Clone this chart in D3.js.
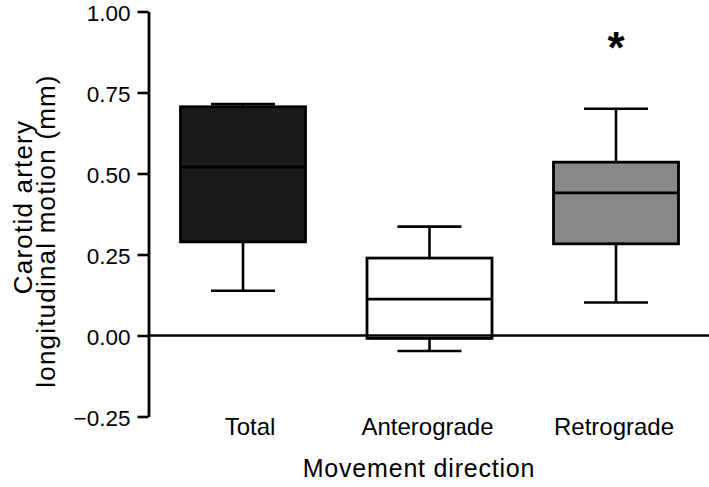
<!DOCTYPE html>
<html>
<head>
<meta charset="utf-8">
<script src="https://cdnjs.cloudflare.com/ajax/libs/d3/7.8.5/d3.min.js"></script>
<style>
  body { margin: 0; background: #fff; }
  svg { display: block; font-family: "Liberation Sans", Arial, Helvetica, sans-serif; }
</style>
</head>
<body>
<div id="chart"></div>
<script>
// box plot of carotid artery longitudinal motion per movement direction

const categories = ["Total", "Anterograde", "Retrograde"];
const whiskerLow = [0.138, -0.048, 0.102];
const q1 = [0.289, -0.009, 0.283];
const median = [0.52, 0.112, 0.44];
const q3 = [0.706, 0.239, 0.535];
const whiskerHigh = [0.714, 0.336, 0.70];
const significant = [false, false, true];
const yTicks = [-0.25, 0, 0.25, 0.5, 0.75, 1.0];

const fills = ["#1a1a1a", "#ffffff", "#888888"];

var data = categories.map(function (c, i) {
    return {
        name: c,
        lo: whiskerLow[i],
        q1: q1[i],
        med: median[i],
        q3: q3[i],
        hi: whiskerHigh[i],
        star: significant[i],
        fill: fills[i]
    }
})

var width = 709
var height = 487

const svg = d3.select("#chart")
    .append("svg")
    .attr("width", width)
    .attr("height", height)

const xScale = d3.scalePoint()
    .domain(categories)
    .range([243, 616])

const yScale = d3.scaleLinear()
    .domain([-0.25, 1.0])
    .range([416.5, 11.5])

const boxW = 125
const capW = 64
const axisX = 148.5

// boxes
var g = svg.append("g")
    .selectAll("g")
    .data(data)
    .enter()
    .append("g")

// whiskers
g.append("line")
    .attr("x1", d => xScale(d.name))
    .attr("x2", d => xScale(d.name))
    .attr("y1", d => yScale(d.lo))
    .attr("y2", d => yScale(d.q1))
    .attr("stroke", "#000")
    .attr("stroke-width", 2.6)
g.append("line")
    .attr("x1", d => xScale(d.name))
    .attr("x2", d => xScale(d.name))
    .attr("y1", d => yScale(d.q3))
    .attr("y2", d => yScale(d.hi))
    .attr("stroke", "#000")
    .attr("stroke-width", 2.6)
// caps
g.append("line")
    .attr("x1", d => xScale(d.name) - capW / 2)
    .attr("x2", d => xScale(d.name) + capW / 2)
    .attr("y1", d => yScale(d.lo))
    .attr("y2", d => yScale(d.lo))
    .attr("stroke", "#000")
    .attr("stroke-width", 2.6)
g.append("line")
    .attr("x1", d => xScale(d.name) - capW / 2)
    .attr("x2", d => xScale(d.name) + capW / 2)
    .attr("y1", d => yScale(d.hi))
    .attr("y2", d => yScale(d.hi))
    .attr("stroke", "#000")
    .attr("stroke-width", 2.6)

g.append("rect")
    .attr("x", d => xScale(d.name) - boxW / 2)
    .attr("width", boxW)
    .attr("y", d => yScale(d.q3))
    .attr("height", d => yScale(d.q1) - yScale(d.q3))
    .attr("fill", d => d.fill)
    .attr("stroke", "#000")
    .attr("stroke-width", 2.8)

g.append("line")
    .attr("x1", d => xScale(d.name) - boxW / 2)
    .attr("x2", d => xScale(d.name) + boxW / 2)
    .attr("y1", d => yScale(d.med))
    .attr("y2", d => yScale(d.med))
    .attr("stroke", "#000")
    .attr("stroke-width", 2.8)

// significance star
svg.append("g")
    .selectAll("text")
    .data(data.filter(d => d.star))
    .enter()
    .append("text")
    .attr("x", d => xScale(d.name))
    .attr("y", 63)
    .attr("text-anchor", "middle")
    .style("font-size", "44px")
    .style("font-weight", "bold")
    .text("*")

// zero line
svg.append("line")
    .attr("x1", axisX)
    .attr("x2", width)
    .attr("y1", yScale(0))
    .attr("y2", yScale(0))
    .attr("stroke", "#000")
    .attr("stroke-width", 2.6)

// y axis
var yAxis = svg.append("g")
    .attr("transform", "translate(" + axisX + ",0)")
    .call(d3.axisLeft(yScale)
        .tickValues(yTicks)
        .tickSize(11)
        .tickPadding(7)
        .tickSizeOuter(0)
        .tickFormat(d3.format(".2f")))
yAxis.select(".domain").attr("stroke-width", 2.8)
yAxis.selectAll(".tick line").attr("stroke-width", 2.6)
yAxis.selectAll(".tick text")
    .style("font-size", "22.5px")
    .style("font-family", "'Liberation Sans', Arial, sans-serif")
    .attr("fill", "#000")
    .attr("dy", "0.41em")
    .text(d => d3.format(".2f")(d).replace("-", "\u2212"))

// category labels
svg.append("g")
    .selectAll("text")
    .data(categories)
    .enter()
    .append("text")
    .attr("x", (d, i) => xScale(d) + (i === 0 ? 7 : -2))
    .attr("y", 435)
    .attr("text-anchor", "middle")
    .style("font-size", "24px")
    .text(d => d)

// axis titles
svg.append("text")
    .attr("x", 419)
    .attr("y", 477)
    .attr("text-anchor", "middle")
    .style("font-size", "25px")
    .style("letter-spacing", "0.8px")
    .text("Movement direction")

svg.append("text")
    .attr("transform", "translate(32,207) rotate(-90)")
    .attr("text-anchor", "middle")
    .style("font-size", "26px")
    .style("letter-spacing", "1.2px")
    .text("Carotid artery")

svg.append("text")
    .attr("transform", "translate(55,231) rotate(-90)")
    .attr("text-anchor", "middle")
    .style("font-size", "26px")
    .style("letter-spacing", "1.2px")
    .text("longitudinal motion (mm)")
</script>
</body>
</html>
